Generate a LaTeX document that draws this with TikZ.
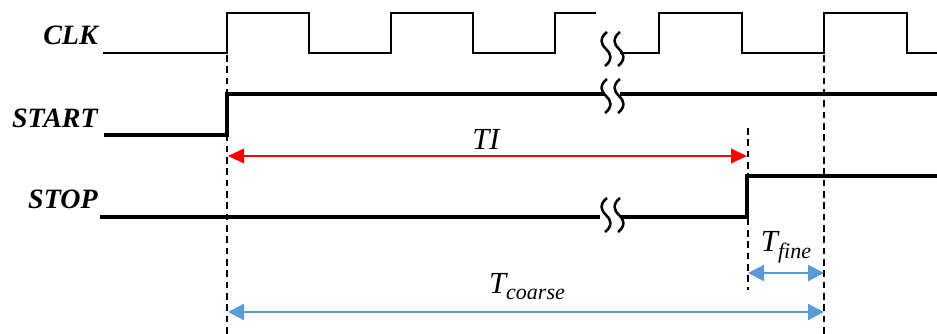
\documentclass[tikz,border=0pt]{standalone}
\usepackage{fontspec}
\setmainfont{Liberation Serif}
\usetikzlibrary{arrows.meta}
\definecolor{tblue}{RGB}{91,155,213}
\begin{document}
\begin{tikzpicture}[x=0.75pt,y=-0.75pt,
  sig/.style={line width=2.6pt, line join=miter},
  clk/.style={line width=1.5pt},
  guide/.style={line width=1.4pt, dash pattern=on 5pt off 3.5pt},
  sq/.style={line width=1.9pt},
  lbl/.style={font=\fontsize{21}{24}\selectfont\bfseries\itshape, anchor=east, inner sep=0pt},
  tlbl/.style={font=\fontsize{23}{26}\selectfont\itshape, inner sep=0pt},
  tiarrow/.style={red, line width=1.2pt, {Triangle[length=12pt,width=11pt]}-{Triangle[length=12pt,width=11pt]}},
  tarrow/.style={tblue, line width=1.6pt, {Triangle[length=12pt,width=12pt]}-{Triangle[length=12pt,width=12pt]}},
  brk/.pic={\draw[sq] (1,-17) .. controls (-7,-11) and (-5,-4) .. (0,0) .. controls (5,4) and (7,11) .. (-1,17);}
]
\useasboundingbox (0,0) rectangle (937,334);

% labels
\node[lbl] (clk) at (98,35) {CLK};
\node[lbl] (start) at (98,118) {START};
\node[lbl] (stop) at (98,199) {STOP};

% CLK waveform
\draw[clk] (103,53) -- (227,53) -- (227,13) -- (309,13) -- (309,53) -- (391,53) -- (391,13) -- (473,13) -- (473,53) -- (555,53) -- (555,13) -- (596,13);
\draw[clk] (620,53) -- (659,53) -- (659,13) -- (742,13) -- (742,53) -- (824,53) -- (824,13) -- (907,13) -- (907,53) -- (937,53);

% START waveform
\draw[sig] (104,135) -- (227,135) -- (227,94) -- (605,94);
\draw[sig] (620,94) -- (937,94);

% STOP waveform
\draw[sig] (100,217) -- (600,217);
\draw[sig] (621,217) -- (747,217) -- (747,176) -- (937,176);

% breaks
\pic at (606,49) {brk}; \pic at (619,49) {brk};
\pic at (606,96) {brk}; \pic at (619,96) {brk};
\pic at (606,215) {brk}; \pic at (619,215) {brk};

% guides
\coordinate (g1t) at (227,55); \coordinate (g1b) at (227,334);
\coordinate (g2t) at (824,55); \coordinate (g2b) at (824,334);
\coordinate (g3t) at (748,128); \coordinate (g3b) at (748,290);
\draw[guide] (g1t) -- (g1b);
\draw[guide] (g2t) -- (g2b);
\draw[guide] (g3t) -- (g3b);

% TI
\coordinate (tiA) at (228,156); \coordinate (tiB) at (747,156);
\draw[tiarrow] (tiA) -- (tiB);
\node[tlbl] (ti) at (486,139) {TI};

% Tfine
\coordinate (tfA) at (748,273); \coordinate (tfB) at (824,273);
\draw[tarrow] (tfA) -- (tfB);
\node[tlbl, anchor=base] (tf) at (786,252) {T\raisebox{-5pt}{\fontsize{16.5}{18}\selectfont fine}};

% Tcoarse
\coordinate (tcA) at (228,312); \coordinate (tcB) at (824,312);
\draw[tarrow] (tcA) -- (tcB);
\node[tlbl, anchor=base] (tc) at (527,293) {T\raisebox{-5pt}{\fontsize{16.5}{18}\selectfont coarse}};
\end{tikzpicture}
\end{document}
